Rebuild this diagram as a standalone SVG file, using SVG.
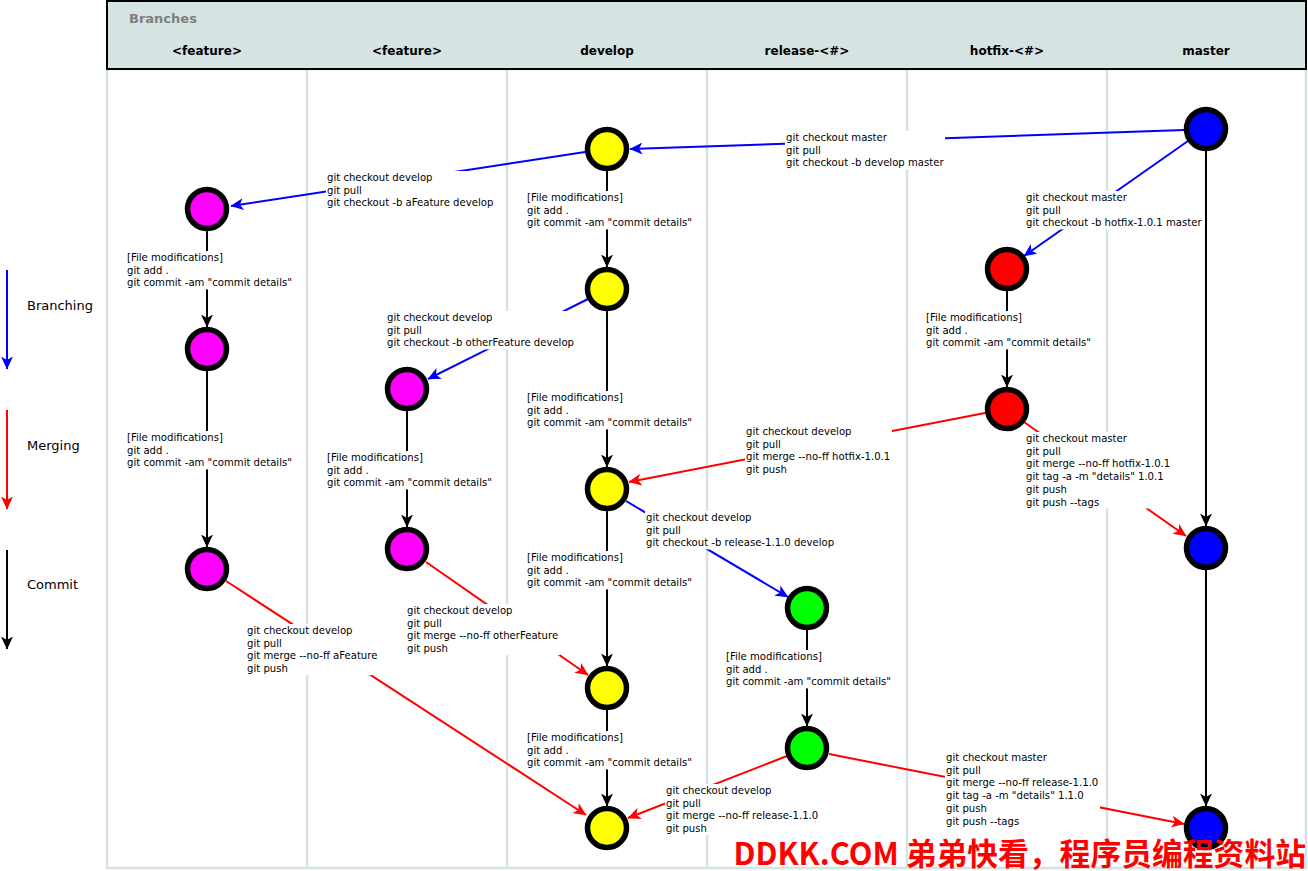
<svg xmlns="http://www.w3.org/2000/svg" width="1308" height="871" viewBox="0 0 1308 871">
<style>
.div{stroke:#d6e3e3;stroke-width:2.5;fill:none}
.hd{font-family:"DejaVu Sans",sans-serif;font-weight:bold;font-size:12px;fill:#000;text-anchor:middle}
.lg{font-family:"DejaVu Sans",sans-serif;font-size:13px;fill:#000}
.lb{font-family:"DejaVu Sans",sans-serif;font-size:10.1px;fill:#000}
.bg{fill:#fff;stroke:none}
.br{stroke:#0000ff;stroke-width:2;fill:none;marker-end:url(#ab)}
.mg{stroke:#ff0000;stroke-width:2;fill:none;marker-end:url(#ar)}
.cm{stroke:#000;stroke-width:2;fill:none;marker-end:url(#ak)}
.nd{stroke:#000;stroke-width:5.5}
</style>
<defs>
<marker id="ab" viewBox="0 0 13 12" refX="12.5" refY="6" markerWidth="13" markerHeight="12" markerUnits="userSpaceOnUse" orient="auto"><path d="M13,6 L0,0 L3.5,6 L0,12 Z" fill="#0000ff"/></marker>
<marker id="ar" viewBox="0 0 13 12" refX="12.5" refY="6" markerWidth="13" markerHeight="12" markerUnits="userSpaceOnUse" orient="auto"><path d="M13,6 L0,0 L3.5,6 L0,12 Z" fill="#ff0000"/></marker>
<marker id="ak" viewBox="0 0 13 12" refX="12.5" refY="6" markerWidth="13" markerHeight="12" markerUnits="userSpaceOnUse" orient="auto"><path d="M13,6 L0,0 L3.5,6 L0,12 Z" fill="#000"/></marker>
</defs>
<rect width="1308" height="871" fill="#fff"/>
<g id="lanes">
<rect x="107" y="69" width="1199" height="799" fill="#fff" class="div"/>
<line class="div" x1="307" y1="69" x2="307" y2="868"/>
<line class="div" x1="507" y1="69" x2="507" y2="868"/>
<line class="div" x1="707" y1="69" x2="707" y2="868"/>
<line class="div" x1="907" y1="69" x2="907" y2="868"/>
<line class="div" x1="1107" y1="69" x2="1107" y2="868"/>
</g>
<g id="header">
<rect x="107" y="1" width="1199" height="68" fill="#d6e3e3" stroke="#000" stroke-width="2"/>
<text x="129" y="23" font-family="DejaVu Sans,sans-serif" font-weight="bold" font-size="13" fill="#808080">Branches</text>
<text class="hd" x="207" y="55">&lt;feature&gt;</text>
<text class="hd" x="407" y="55">&lt;feature&gt;</text>
<text class="hd" x="607" y="55">develop</text>
<text class="hd" x="807" y="55">release-&lt;#&gt;</text>
<text class="hd" x="1007" y="55">hotfix-&lt;#&gt;</text>
<text class="hd" x="1206" y="55">master</text>
</g>
<g id="legend">
<line class="br" x1="7" y1="270" x2="7" y2="369"/>
<text class="lg" x="27" y="310">Branching</text>
<line class="mg" x1="7" y1="410" x2="7" y2="509"/>
<text class="lg" x="27" y="450">Merging</text>
<line class="cm" x1="7" y1="550" x2="7" y2="649"/>
<text class="lg" x="27" y="589">Commit</text>
</g>
<g id="connectors">
<line class="br" x1="1184" y1="130" x2="630" y2="149"/>
<line class="br" x1="585" y1="152" x2="231" y2="206"/>
<line class="br" x1="1188" y1="141" x2="1024" y2="256"/>
<line class="br" x1="590" y1="298" x2="428" y2="379"/>
<line class="br" x1="626" y1="501" x2="788" y2="597"/>
<line class="mg" x1="985" y1="413" x2="629" y2="482"/>
<line class="mg" x1="1024" y1="422" x2="1186" y2="536"/>
<line class="mg" x1="226" y1="581" x2="586" y2="815"/>
<line class="mg" x1="426" y1="562" x2="588" y2="675"/>
<line class="mg" x1="787" y1="756" x2="628" y2="818"/>
<line class="mg" x1="829" y1="754" x2="1184" y2="824"/>
<line class="cm" x1="207" y1="231" x2="207" y2="327"/>
<line class="cm" x1="207" y1="371" x2="207" y2="547"/>
<line class="cm" x1="407" y1="411" x2="407" y2="527"/>
<line class="cm" x1="607" y1="171" x2="607" y2="267"/>
<line class="cm" x1="607" y1="311" x2="607" y2="467"/>
<line class="cm" x1="607" y1="511" x2="607" y2="666"/>
<line class="cm" x1="607" y1="710" x2="607" y2="806"/>
<line class="cm" x1="1007" y1="291" x2="1007" y2="387"/>
<line class="cm" x1="807" y1="630" x2="807" y2="726"/>
<line class="cm" x1="1206" y1="151" x2="1206" y2="526"/>
<line class="cm" x1="1206" y1="570" x2="1206" y2="806"/>
</g>
<g id="labels">
<rect class="bg" x="785" y="131" width="160" height="38.4"/>
<text class="lb" x="786" y="141"><tspan x="786">git checkout master</tspan><tspan x="786" dy="12.7">git pull</tspan><tspan x="786" dy="12.7">git checkout -b develop master</tspan></text>
<rect class="bg" x="326" y="171" width="169" height="38.4"/>
<text class="lb" x="327" y="181"><tspan x="327">git checkout develop</tspan><tspan x="327" dy="12.7">git pull</tspan><tspan x="327" dy="12.7">git checkout -b aFeature develop</tspan></text>
<rect class="bg" x="1025" y="191" width="178" height="38.4"/>
<text class="lb" x="1026" y="201"><tspan x="1026">git checkout master</tspan><tspan x="1026" dy="12.7">git pull</tspan><tspan x="1026" dy="12.7">git checkout -b hotfix-1.0.1 master</tspan></text>
<rect class="bg" x="386" y="311" width="190" height="38.4"/>
<text class="lb" x="387" y="321"><tspan x="387">git checkout develop</tspan><tspan x="387" dy="12.7">git pull</tspan><tspan x="387" dy="12.7">git checkout -b otherFeature develop</tspan></text>
<rect class="bg" x="645" y="511" width="191" height="38.4"/>
<text class="lb" x="646" y="521"><tspan x="646">git checkout develop</tspan><tspan x="646" dy="12.7">git pull</tspan><tspan x="646" dy="12.7">git checkout -b release-1.1.0 develop</tspan></text>
<rect class="bg" x="745" y="425" width="147" height="51.1"/>
<text class="lb" x="746" y="435"><tspan x="746">git checkout develop</tspan><tspan x="746" dy="12.7">git pull</tspan><tspan x="746" dy="12.7">git merge --no-ff hotfix-1.0.1</tspan><tspan x="746" dy="12.7">git push</tspan></text>
<rect class="bg" x="1025" y="432" width="147" height="76.5"/>
<text class="lb" x="1026" y="442"><tspan x="1026">git checkout master</tspan><tspan x="1026" dy="12.7">git pull</tspan><tspan x="1026" dy="12.7">git merge --no-ff hotfix-1.0.1</tspan><tspan x="1026" dy="12.7">git tag -a -m "details" 1.0.1</tspan><tspan x="1026" dy="12.7">git push</tspan><tspan x="1026" dy="12.7">git push --tags</tspan></text>
<rect class="bg" x="246" y="624" width="134" height="51.1"/>
<text class="lb" x="247" y="634"><tspan x="247">git checkout develop</tspan><tspan x="247" dy="12.7">git pull</tspan><tspan x="247" dy="12.7">git merge --no-ff aFeature</tspan><tspan x="247" dy="12.7">git push</tspan></text>
<rect class="bg" x="406" y="604" width="154" height="51.1"/>
<text class="lb" x="407" y="614"><tspan x="407">git checkout develop</tspan><tspan x="407" dy="12.7">git pull</tspan><tspan x="407" dy="12.7">git merge --no-ff otherFeature</tspan><tspan x="407" dy="12.7">git push</tspan></text>
<rect class="bg" x="665" y="784" width="155" height="51.1"/>
<text class="lb" x="666" y="794"><tspan x="666">git checkout develop</tspan><tspan x="666" dy="12.7">git pull</tspan><tspan x="666" dy="12.7">git merge --no-ff release-1.1.0</tspan><tspan x="666" dy="12.7">git push</tspan></text>
<rect class="bg" x="945" y="751" width="155" height="76.5"/>
<text class="lb" x="946" y="761"><tspan x="946">git checkout master</tspan><tspan x="946" dy="12.7">git pull</tspan><tspan x="946" dy="12.7">git merge --no-ff release-1.1.0</tspan><tspan x="946" dy="12.7">git tag -a -m "details" 1.1.0</tspan><tspan x="946" dy="12.7">git push</tspan><tspan x="946" dy="12.7">git push --tags</tspan></text>
<rect class="bg" x="126" y="251" width="168" height="38.4"/>
<text class="lb" x="127" y="261"><tspan x="127">[File modifications]</tspan><tspan x="127" dy="12.7">git add .</tspan><tspan x="127" dy="12.7">git commit -am "commit details"</tspan></text>
<rect class="bg" x="126" y="431" width="168" height="38.4"/>
<text class="lb" x="127" y="441"><tspan x="127">[File modifications]</tspan><tspan x="127" dy="12.7">git add .</tspan><tspan x="127" dy="12.7">git commit -am "commit details"</tspan></text>
<rect class="bg" x="326" y="451" width="168" height="38.4"/>
<text class="lb" x="327" y="461"><tspan x="327">[File modifications]</tspan><tspan x="327" dy="12.7">git add .</tspan><tspan x="327" dy="12.7">git commit -am "commit details"</tspan></text>
<rect class="bg" x="526" y="191" width="168" height="38.4"/>
<text class="lb" x="527" y="201"><tspan x="527">[File modifications]</tspan><tspan x="527" dy="12.7">git add .</tspan><tspan x="527" dy="12.7">git commit -am "commit details"</tspan></text>
<rect class="bg" x="526" y="391" width="168" height="38.4"/>
<text class="lb" x="527" y="401"><tspan x="527">[File modifications]</tspan><tspan x="527" dy="12.7">git add .</tspan><tspan x="527" dy="12.7">git commit -am "commit details"</tspan></text>
<rect class="bg" x="526" y="551" width="168" height="38.4"/>
<text class="lb" x="527" y="561"><tspan x="527">[File modifications]</tspan><tspan x="527" dy="12.7">git add .</tspan><tspan x="527" dy="12.7">git commit -am "commit details"</tspan></text>
<rect class="bg" x="526" y="731" width="168" height="38.4"/>
<text class="lb" x="527" y="741"><tspan x="527">[File modifications]</tspan><tspan x="527" dy="12.7">git add .</tspan><tspan x="527" dy="12.7">git commit -am "commit details"</tspan></text>
<rect class="bg" x="925" y="311" width="168" height="38.4"/>
<text class="lb" x="926" y="321"><tspan x="926">[File modifications]</tspan><tspan x="926" dy="12.7">git add .</tspan><tspan x="926" dy="12.7">git commit -am "commit details"</tspan></text>
<rect class="bg" x="725" y="650" width="168" height="38.4"/>
<text class="lb" x="726" y="660"><tspan x="726">[File modifications]</tspan><tspan x="726" dy="12.7">git add .</tspan><tspan x="726" dy="12.7">git commit -am "commit details"</tspan></text>
</g>
<g id="n-master-1"><circle class="nd" cx="1206" cy="129" r="19.5" fill="#0000ff"/></g>
<g id="n-master-2"><circle class="nd" cx="1206" cy="548" r="19.5" fill="#0000ff"/></g>
<g id="n-master-3"><circle class="nd" cx="1206" cy="828" r="19.5" fill="#0000ff"/></g>
<g id="n-develop-1"><circle class="nd" cx="607" cy="149" r="19.5" fill="#ffff00"/></g>
<g id="n-develop-2"><circle class="nd" cx="607" cy="289" r="19.5" fill="#ffff00"/></g>
<g id="n-develop-3"><circle class="nd" cx="607" cy="489" r="19.5" fill="#ffff00"/></g>
<g id="n-develop-4"><circle class="nd" cx="607" cy="688" r="19.5" fill="#ffff00"/></g>
<g id="n-develop-5"><circle class="nd" cx="607" cy="828" r="19.5" fill="#ffff00"/></g>
<g id="n-feature1-1"><circle class="nd" cx="207" cy="209" r="19.5" fill="#ff00ff"/></g>
<g id="n-feature1-2"><circle class="nd" cx="207" cy="349" r="19.5" fill="#ff00ff"/></g>
<g id="n-feature1-3"><circle class="nd" cx="207" cy="569" r="19.5" fill="#ff00ff"/></g>
<g id="n-feature2-1"><circle class="nd" cx="407" cy="389" r="19.5" fill="#ff00ff"/></g>
<g id="n-feature2-2"><circle class="nd" cx="407" cy="549" r="19.5" fill="#ff00ff"/></g>
<g id="n-release-1"><circle class="nd" cx="807" cy="608" r="19.5" fill="#00ff00"/></g>
<g id="n-release-2"><circle class="nd" cx="807" cy="748" r="19.5" fill="#00ff00"/></g>
<g id="n-hotfix-1"><circle class="nd" cx="1007" cy="269" r="19.5" fill="#ff0000"/></g>
<g id="n-hotfix-2"><circle class="nd" cx="1007" cy="409" r="19.5" fill="#ff0000"/></g>
<text x="1306" y="865" text-anchor="end" font-family="Noto Sans CJK SC,Noto Sans,sans-serif" font-weight="bold" font-size="30.8" fill="#ff0000">DDKK.COM 弟弟快看，程序员编程资料站</text>
</svg>
